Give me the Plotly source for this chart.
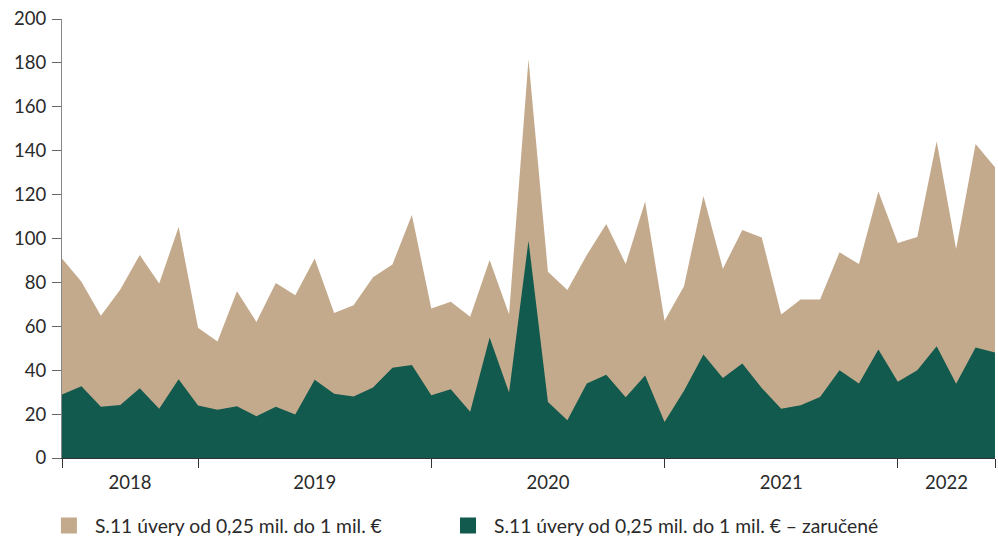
import plotly.graph_objects as go

# monthly observations, Jun 2018 - Jun 2022
months = list(range(49))

total = [
    90.9, 80.3, 64.8, 76.8, 92.5, 79.5, 105.2, 59.3, 53.1, 76.0,
    62.0, 79.7, 74.1, 90.9, 66.1, 69.6, 82.3, 88.2, 110.7, 68.1,
    71.2, 64.3, 90.2, 65.5, 181.7, 84.9, 76.5, 92.5, 106.6, 88.4,
    116.8, 62.5, 78.3, 119.4, 86.2, 103.9, 100.5, 65.4, 72.2, 72.2,
    93.7, 88.4, 121.4, 97.9, 100.7, 144.3, 95.2, 143.1, 132.5,
]
guaranteed = [
    28.9, 32.7, 23.3, 24.2, 31.8, 22.4, 35.9, 23.9, 22.0, 23.6,
    19.0, 23.3, 19.8, 35.7, 29.3, 28.0, 32.1, 41.1, 42.4, 28.6,
    31.3, 21.1, 54.9, 29.8, 99.0, 25.5, 17.2, 33.9, 37.9, 27.7,
    37.6, 16.4, 30.6, 47.1, 36.5, 43.0, 31.9, 22.4, 24.0, 27.8,
    40.0, 33.9, 49.4, 34.7, 40.0, 50.9, 33.8, 50.3, 48.1,
]

year_labels = ["2018", "2019", "2020", "2021", "2022"]
year_label_pos = [3.5, 13, 25, 37, 45.5]
year_bounds = [0, 7, 19, 31, 43, 48]

names = [
    "S.11 úvery od 0,25 mil. do 1 mil. €",
    "S.11 úvery od 0,25 mil. do 1 mil. € – zaručené",
]
TAN = "#C4AA8C"
GREEN = "#12594E"
FONT = dict(family="Lato, 'Open Sans', sans-serif", size=18.5, color="#2a2a2a")
LEGEND_FONT = dict(FONT, size=19.3)

fig = go.Figure()

# areas
fig.add_trace(go.Scatter(
    x=months, y=total, mode="lines", line=dict(width=0, color=TAN),
    fill="tozeroy", fillcolor=TAN, showlegend=False, hoverinfo="skip",
))
fig.add_trace(go.Scatter(
    x=months, y=guaranteed, mode="lines", line=dict(width=0, color=GREEN),
    fill="tozeroy", fillcolor=GREEN, showlegend=False, hoverinfo="skip",
))

# legend squares, one legend box each
for name, color, leg in zip(names, [TAN, GREEN], ["legend", "legend2"]):
    fig.add_trace(go.Scatter(
        x=[None], y=[None], mode="markers", name=name, legend=leg,
        marker=dict(symbol="square", size=16, color=color),
    ))

legend_common = dict(
    orientation="h",
    xref="container", yref="container",
    y=0.0223, xanchor="left", yanchor="middle",
    itemwidth=42,
    font=LEGEND_FONT,
    bgcolor="rgba(0,0,0,0)",
)

fig.update_layout(
    width=998,
    height=538,
    margin=dict(l=62, r=3, t=19, b=80, autoexpand=False),
    plot_bgcolor="white",
    paper_bgcolor="white",
    font=FONT,
    showlegend=True,
    legend=dict(legend_common, x=0.043),
    legend2=dict(legend_common, x=0.4429),
)

fig.update_xaxes(
    range=[0, 48],
    tickmode="array",
    tickvals=year_label_pos,
    ticktext=year_labels,
    ticks="",
    showgrid=False,
    zeroline=False,
    showline=True,
    linecolor="#333333",
    linewidth=1,
    minor=dict(
        tickmode="array",
        tickvals=year_bounds,
        ticks="outside",
        ticklen=9,
        tickcolor="#333333",
        showgrid=False,
    ),
    ticklabelstandoff=8,
)

fig.update_yaxes(
    range=[0, 200],
    tickmode="linear",
    tick0=0,
    dtick=20,
    ticks="outside",
    ticklen=9,
    tickcolor="#666666",
    ticklabelstandoff=2,
    ticklabeloverflow="allow",
    showgrid=False,
    zeroline=False,
    showline=True,
    linecolor="#888888",
    linewidth=1,
)

# drop the default body margin so the figure fills the window exactly
fig.write_html(
    "out.html",
    config={"displayModeBar": False},
    post_script="document.body.style.margin='0';document.body.style.overflow='hidden';",
)
